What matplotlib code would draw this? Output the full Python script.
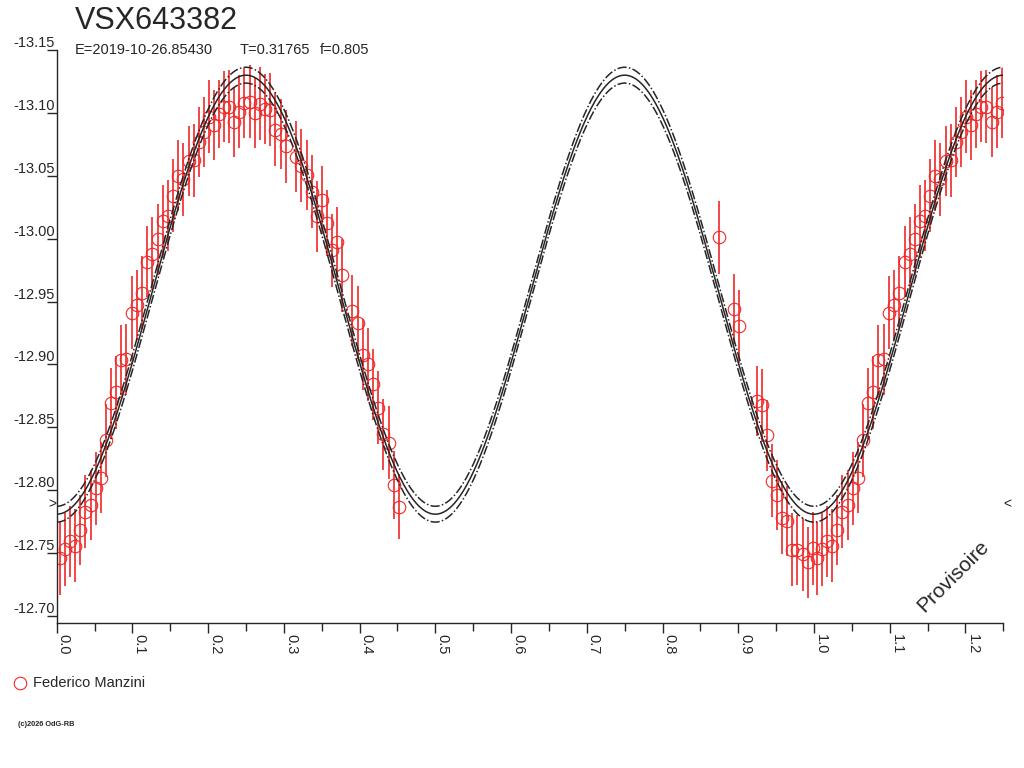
import numpy as np
import matplotlib
matplotlib.use("Agg")
import matplotlib.pyplot as plt
import matplotlib.transforms as mtransforms

plt.rcParams['font.family'] = ['Liberation Sans', 'DejaVu Sans']

## Light curve data (phase, magnitude, error)
star_name = "VSX643382"
epoch_txt = "E=2019-10-26.85430"
period_txt = "T=0.31765"
fill_txt = "f=0.805"
observer = "Federico Manzini"

phase = [0.0044, 0.0110, 0.0176, 0.0242, 0.0308, 0.0374, 0.0449, 0.0519, 0.0585, 0.0651,
         0.0717, 0.0783, 0.0849, 0.0919, 0.0990, 0.1057, 0.1123, 0.1197, 0.1263, 0.1334,
         0.1400, 0.1466, 0.1532, 0.1598, 0.1664, 0.1741, 0.1807, 0.1873, 0.1939, 0.2011,
         0.2077, 0.2143, 0.2209, 0.2275, 0.2345, 0.2412, 0.2478, 0.2546, 0.2619, 0.2685,
         0.2751, 0.2817, 0.2887, 0.2958, 0.3024, 0.3160, 0.3226, 0.3299, 0.3368, 0.3434,
         0.3500, 0.3566, 0.3632, 0.3706, 0.3772, 0.3904, 0.3973, 0.4041, 0.4107, 0.4173,
         0.4247, 0.4313, 0.4389, 0.4455, 0.4521,
         0.8747, 0.8945, 0.9015, 0.9245, 0.9311, 0.9377, 0.9443, 0.9509, 0.9575, 0.9649,
         0.9707, 0.9781, 0.9852, 0.9918, 0.9984]
mag = [-12.7458, -12.7532, -12.7593, -12.7558, -12.7685, -12.7828, -12.7881, -12.8016, -12.8101, -12.8397,
       -12.8690, -12.8780, -12.9034, -12.9040, -12.9413, -12.9472, -12.9571, -12.9817, -12.9879, -12.9994,
       -13.0137, -13.0183, -13.0340, -13.0502, -13.0472, -13.0617, -13.0623, -13.0770, -13.0849, -13.0968,
       -13.0905, -13.0990, -13.1050, -13.1050, -13.0929, -13.1008, -13.1077, -13.1090, -13.0998, -13.1071,
       -13.1029, -13.1024, -13.0867, -13.0833, -13.0733, -13.0653, -13.0579, -13.0508, -13.0373, -13.0177,
       -13.0310, -13.0125, -12.9909, -12.9972, -12.9709, -12.9429, -12.9331, -12.9079, -12.9000, -12.8841,
       -12.8656, -12.8444, -12.8379, -12.8042, -12.7871,
       -13.0013, -12.9442, -12.9304, -12.8709, -12.8677, -12.8437, -12.8074, -12.7963, -12.7783, -12.7756,
       -12.7526, -12.7524, -12.7492, -12.7426, -12.7540]
mag_err = [0.029, 0.029, 0.028, 0.029, 0.028, 0.029, 0.028, 0.029, 0.028, 0.029,
           0.028, 0.029, 0.028, 0.028, 0.029, 0.028, 0.029, 0.028, 0.029, 0.028,
           0.029, 0.028, 0.029, 0.028, 0.029, 0.028, 0.029, 0.028, 0.028, 0.029,
           0.028, 0.027, 0.028, 0.029, 0.028, 0.029, 0.028, 0.029, 0.028, 0.029,
           0.028, 0.029, 0.029, 0.028, 0.029, 0.028, 0.029, 0.028, 0.029, 0.028,
           0.027, 0.026, 0.029, 0.028, 0.029, 0.028, 0.029, 0.028, 0.029, 0.028,
           0.029, 0.028, 0.029, 0.027, 0.026,
           0.029, 0.028, 0.029, 0.028, 0.029, 0.028, 0.029, 0.028, 0.029, 0.028,
           0.029, 0.028, 0.029, 0.028, 0.029]

## Fitted model: mean level, semi-amplitude, envelope offset (two waves per cycle)
fit_mean = -12.9555
fit_amp = 0.1745
fit_env = 0.0063
arrow_level = -12.789  # side markers

y_ticks = [-13.15, -13.10, -13.05, -13.00, -12.95, -12.90, -12.85, -12.80, -12.75, -12.70]
x_ticks = [0.0, 0.1, 0.2, 0.3, 0.4, 0.5, 0.6, 0.7, 0.8, 0.9, 1.0, 1.1, 1.2]
x_max = 1.25

red = '#f02828'
ink = '#262626'

## Repeat the first part of the cycle past phase 1
phase = np.array(phase)
mag = np.array(mag)
mag_err = np.array(mag_err)
rep = phase + 1.0 <= x_max
ph_all = np.concatenate([phase, phase[rep] + 1.0])
mg_all = np.concatenate([mag, mag[rep]])
er_all = np.concatenate([mag_err, mag_err[rep]])

fig = plt.figure(figsize=(10.24, 7.68), dpi=100)
ax = fig.add_axes([56.7/1024, 1-623/768, (1003.3-56.7)/1024, (623-50)/768])

ax.errorbar(ph_all, mg_all, yerr=er_all, fmt='o', mfc='none', mec=red, mew=0.8,
            ms=9, ecolor=red, elinewidth=1.2, capsize=0, zorder=2)

ph_line = np.linspace(0, x_max, 800)
model = fit_mean + fit_amp*np.cos(4*np.pi*ph_line)
ax.plot(ph_line, model, color=ink, lw=1.1, zorder=3)
ax.plot(ph_line, model - fit_env, color=ink, lw=1.1, dashes=(6, 1.5, 1, 1.5), zorder=3)
ax.plot(ph_line, model + fit_env, color=ink, lw=1.1, dashes=(6, 1.5, 1, 1.5), zorder=3)

ax.set_xlim(0, x_max)
ax.set_ylim(-12.6945, -13.15)
for s in ['top', 'right']:
    ax.spines[s].set_visible(False)
for s in ['left', 'bottom']:
    ax.spines[s].set_color(ink)
    ax.spines[s].set_linewidth(1.0)

ax.set_yticks(y_ticks)
ax.set_yticklabels(['%.2f' % v for v in y_ticks])
ax.tick_params(axis='y', direction='out', length=7.2, width=1.0, pad=-6.0,
               colors=ink, labelsize=10.5)
for lbl in ax.get_yticklabels():
    lbl.set_verticalalignment('bottom')

ax.set_xticks(x_ticks)
ax.set_xticklabels(['%.1f' % v for v in x_ticks], rotation=270)
ax.set_xticks(np.arange(0.05, x_max + 0.001, 0.1), minor=True)
ax.tick_params(axis='x', which='major', direction='out', length=7.2, width=1.0, pad=0.5,
               colors=ink, labelsize=10.5)
ax.tick_params(axis='x', which='minor', direction='out', length=5.8, width=1.0, colors=ink)
for lbl in ax.get_xticklabels():
    lbl.set_horizontalalignment('left')

## side markers
trans = mtransforms.blended_transform_factory(ax.transAxes, ax.transData)
ax.text(-0.0005, arrow_level, '>', transform=trans, ha='right', va='center',
        fontsize=10, color=ink)
ax.text(1.0005, arrow_level, '<', transform=trans, ha='left', va='center',
        fontsize=10, color=ink)

## titles
fig.text(75/1024, 1-29/768, star_name, fontsize=22, color=ink, ha='left', va='baseline')
fig.text(75/1024, 1-54/768, epoch_txt, fontsize=10.5, color=ink, ha='left', va='baseline')
fig.text(240/1024, 1-54/768, period_txt, fontsize=10.5, color=ink, ha='left', va='baseline')
fig.text(320/1024, 1-54/768, fill_txt, fontsize=10.5, color=ink, ha='left', va='baseline')

fig.text(953/1024, 1-576/768, 'Provisoire', fontsize=15, color=ink, rotation=45,
         ha='center', va='center')

## legend
fig.lines.append(plt.Line2D([20/1024], [1-683/768], marker='o', ms=9, mfc='none',
                            mec=red, mew=0.8, transform=fig.transFigure))
fig.text(33/1024, 1-683/768, observer, fontsize=10.5, color=ink, ha='left', va='center')

fig.text(18/1024, 1-725/768, '(c)2026 OdG-RB', fontsize=5.3, color=ink, weight='bold',
         ha='left', va='center')

fig.savefig('out.png', dpi=100)
